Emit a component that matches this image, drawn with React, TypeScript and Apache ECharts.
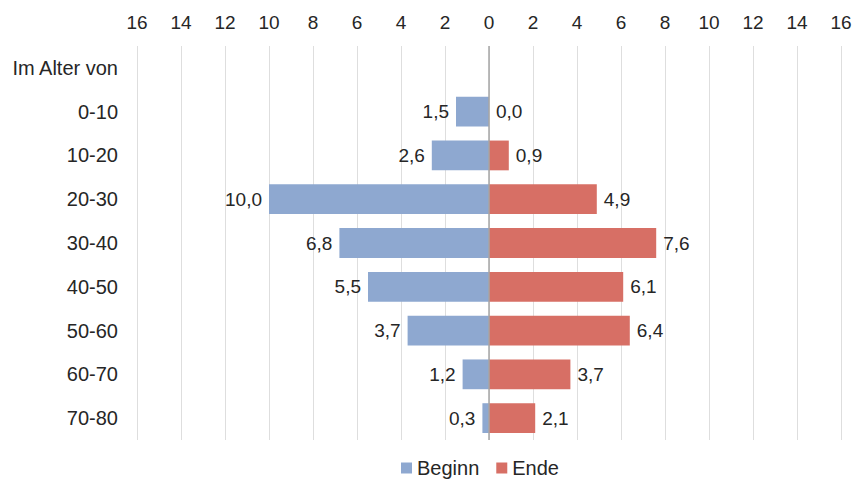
import React, { useEffect, useRef } from "react";
import * as echarts from "echarts";

const categories = ["Im Alter von", "0-10", "10-20", "20-30", "30-40", "40-50", "50-60", "60-70", "70-80"];
const beginn = [null, 1.5, 2.6, 10.0, 6.8, 5.5, 3.7, 1.2, 0.3];
const ende = [null, 0.0, 0.9, 4.9, 7.6, 6.1, 6.4, 3.7, 2.1];
const tickMin = -16;
const tickMax = 16;
const tickStep = 2;

const fmt = (v: number) => Math.abs(v).toFixed(1).replace(".", ",");

export default function App() {
  const ref = useRef<HTMLDivElement>(null);
  useEffect(() => {
    if (!ref.current) return;
    const chart = echarts.init(ref.current, undefined, { renderer: "svg" });
    const font = "Liberation Sans, Arial, sans-serif";
    chart.setOption({
      animation: false,
      textStyle: { fontFamily: font },
      grid: {
        left: 137,
        right: 12,
        top: 46,
        bottom: 46,
        containLabel: false,
        outerBoundsMode: "none",
      },
      legend: {
        bottom: 3,
        left: 396,
        icon: "rect",
        itemWidth: 11,
        itemHeight: 11,
        itemGap: 17,
        textStyle: { fontSize: 20, color: "#262626", fontFamily: font },
        data: ["Beginn", "Ende"],
      },
      xAxis: {
        type: "value",
        position: "top",
        min: tickMin,
        max: tickMax,
        interval: tickStep,
        axisLine: { show: false },
        axisTick: { show: false },
        axisLabel: {
          fontSize: 19,
          color: "#262626",
          margin: 14,
          formatter: (v: number) => String(Math.abs(v)),
        },
        splitLine: { show: true, lineStyle: { color: "#dedede", width: 1 } },
      },
      yAxis: {
        type: "category",
        data: categories,
        inverse: true,
        axisLine: { show: false },
        axisTick: { show: false },
        axisLabel: { fontSize: 20, color: "#262626", margin: 19 },
      },
      series: [
        {
          name: "Beginn",
          type: "bar",
          barGap: "-100%",
          barCategoryGap: "32%",
          data: beginn.map((v) => (v == null ? null : -v)),
          itemStyle: { color: "#8ea8d0" },
          label: {
            show: true,
            position: "left",
            distance: 7,
            fontSize: 19,
            color: "#262626",
            formatter: (p: any) => fmt(p.value),
          },
          markLine: {
            silent: true,
            symbol: "none",
            label: { show: false },
            lineStyle: { color: "#a6a6a6", type: "solid", width: 1.5 },
            data: [{ xAxis: 0 }],
          },
        },
        {
          name: "Ende",
          type: "bar",
          barGap: "-100%",
          barCategoryGap: "32%",
          data: ende,
          itemStyle: { color: "#d76f65" },
          label: {
            show: true,
            position: "right",
            distance: 7,
            fontSize: 19,
            color: "#262626",
            formatter: (p: any) => fmt(p.value),
          },
        },
      ],
    });
    return () => chart.dispose();
  }, []);
  return (
    <div
      ref={ref}
      style={{ position: "absolute", left: 0, top: 0, width: 853, height: 486 }}
    />
  );
}
